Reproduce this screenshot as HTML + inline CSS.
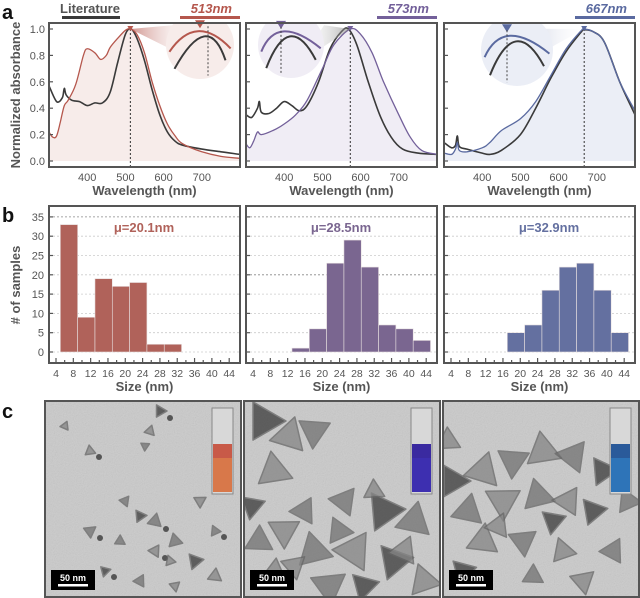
<!DOCTYPE html>
<html><head><meta charset="utf-8">
<style>
html,body{margin:0;padding:0;background:#fff;}
svg{display:block;font-family:"Liberation Sans",Arial,sans-serif;}
</style></head>
<body>
<svg id="fig" width="640" height="598" viewBox="0 0 640 598" xmlns="http://www.w3.org/2000/svg">
<defs>
<linearGradient id="coneR" x1="0" x2="1"><stop offset="0" stop-color="#b5574d" stop-opacity="0.8"/><stop offset="1" stop-color="#fff" stop-opacity="0.1"/></linearGradient>
<linearGradient id="coneP" x1="1" x2="0"><stop offset="0" stop-color="#777" stop-opacity="0.7"/><stop offset="1" stop-color="#fff" stop-opacity="0.1"/></linearGradient>
<linearGradient id="coneB" x1="0" x2="1"><stop offset="0" stop-color="#5a6aa0" stop-opacity="0.8"/><stop offset="1" stop-color="#fff" stop-opacity="0.1"/></linearGradient>
<filter id="noise"><feTurbulence type="fractalNoise" baseFrequency="0.9" numOctaves="1" result="n"/><feColorMatrix type="saturate" values="0"/><feComponentTransfer><feFuncA type="table" tableValues="0 0.25"/></feComponentTransfer></filter>
</defs>
<g id="root"></g>
</svg>
<script>
// ---------- Panel a data (wavelength nm, normalized absorbance) ----------
const wl1 = [300,310,320,330,340,350,370,390,400,420,435,450,460,480,500,513,530,550,570,590,610,630,650,700,750,800];
const red1 = [0.22,0.18,0.19,0.30,0.42,0.46,0.58,0.80,0.85,0.82,0.77,0.80,0.86,0.93,0.99,1.0,0.96,0.82,0.60,0.42,0.28,0.19,0.13,0.07,0.035,0.02];
const wlLit1 = [300,320,335,340,345,360,380,400,420,440,460,480,500,515,530,550,570,590,610,630,650,700,750,800];
const lit1 = [0.57,0.45,0.48,0.55,0.50,0.46,0.45,0.42,0.44,0.44,0.52,0.75,0.96,1.0,0.93,0.76,0.54,0.35,0.22,0.15,0.12,0.09,0.07,0.05];
const wl2 = [300,310,320,330,340,370,400,430,460,500,530,573,600,630,660,700,730,760,800];
const pur2 = [0.13,0.10,0.15,0.22,0.20,0.23,0.28,0.35,0.46,0.70,0.88,1.0,0.96,0.82,0.60,0.35,0.18,0.08,0.05];
const wlLit2 = [300,315,330,335,340,360,380,400,420,440,460,490,520,550,568,590,620,650,680,710,750,800];
const lit2 = [0.35,0.33,0.40,0.45,0.37,0.36,0.40,0.45,0.42,0.38,0.42,0.60,0.85,0.98,1.0,0.88,0.60,0.35,0.18,0.09,0.06,0.05];
const wl3 = [300,320,330,335,340,360,400,420,450,500,540,580,620,660,667,690,720,760,800];
const blu3 = [0.06,0.05,0.09,0.14,0.08,0.07,0.10,0.14,0.23,0.32,0.45,0.65,0.85,0.99,1.0,0.98,0.90,0.60,0.38];
const lit3 = [0.14,0.10,0.12,0.19,0.11,0.09,0.06,0.05,0.08,0.20,0.40,0.63,0.83,0.98,0.995,0.98,0.90,0.60,0.35];
const peaks = [513,573,667];
const peakLabels = ["513nm","573nm","667nm"];
const yTicksA = [0,0.2,0.4,0.6,0.8,1.0];
const xTicksA = [400,500,600,700];

// ---------- Panel b data (histograms, 4 nm bins) ----------
const binStarts1 = [5,9,13,17,21,25,29];
const counts1 = [33,9,19,17,18,2,2];
const binStarts2 = [13,17,21,25,29,33,37,41];
const counts2 = [1,6,23,29,22,7,6,3];
const binStarts3 = [17,21,25,29,33,37,41];
const counts3 = [5,7,16,22,23,16,5];
const means = ["μ=20.1nm","μ=28.5nm","μ=32.9nm"];
const yTicksB = [0,5,10,15,20,25,30,35];
const xTicksB = [4,8,12,16,20,24,28,32,36,40,44];

const NS = "http://www.w3.org/2000/svg";
const root = document.getElementById('root');
function mk(tag, attrs, parent, text){
  const e = document.createElementNS(NS, tag);
  for (const k in attrs) e.setAttribute(k, attrs[k]);
  if (text !== undefined) e.textContent = text;
  (parent || root).appendChild(e);
  return e;
}
const frames = [49, 246, 444];
const FW = 191;
const colors = ["#b5574d","#73609a","#5a6aa0"];
const fills = ["#f7ecea","#f0edf5","#ebeef6"];
const barCols = ["#b0625a","#7a6690","#6470a0"];
const gray = "#555";

const aTop = 23, aBot = 167;
function ax(i, w){ return frames[i] + (w - 300) / 500 * FW; }
function ay(v){ return 161 - v * 132; }
function smoothPath(xs, ys){
  let d = "M" + xs[0].toFixed(1) + "," + ys[0].toFixed(1);
  for (let i = 0; i < xs.length - 1; i++){
    const x0 = xs[Math.max(i-1,0)], y0 = ys[Math.max(i-1,0)];
    const x1 = xs[i], y1 = ys[i], x2 = xs[i+1], y2 = ys[i+1];
    const x3 = xs[Math.min(i+2,xs.length-1)], y3 = ys[Math.min(i+2,xs.length-1)];
    const c1x = x1 + (x2-x0)/6, c1y = y1 + (y2-y0)/6;
    const c2x = x2 - (x3-x1)/6, c2y = y2 - (y3-y1)/6;
    d += " C" + c1x.toFixed(1)+","+c1y.toFixed(1)+" "+c2x.toFixed(1)+","+c2y.toFixed(1)+" "+x2.toFixed(1)+","+y2.toFixed(1);
  }
  return d;
}
const sets = [[wl1,red1,wlLit1,lit1],[wl2,pur2,wlLit2,lit2],[wl3,blu3,wl3,lit3]];
const insets = [{cx:200,cy:45,r:34},{cx:291,cy:45,r:33},{cx:517,cy:50,r:36}];
const coneIds = ["coneR","coneP","coneB"];

let t;
t = mk('text',{x:2,y:19,'font-size':20,'font-weight':'bold',fill:'#111'},root,'a');
 
t = mk('text',{x:2,y:222,'font-size':20,'font-weight':'bold',fill:'#111'},root,'b');
 
t = mk('text',{x:2,y:418,'font-size':20,'font-weight':'bold',fill:'#111'},root,'c');
 

t = mk('text',{x:90,y:13,'font-size':13,'font-weight':'bold',fill:'#555','text-anchor':'middle'},root,'Literature');
 
let r = mk('rect',{x:62,y:16,width:58,height:3,fill:'#3a3a3a'});
 

for (let i = 0; i < 3; i++){
  const g = mk('g',{});
  
  
  const x0 = frames[i];
  const [wa, va, wb, vb] = sets[i];
  const xs = wa.map(w => ax(i,w)), ys = va.map(v => ay(v));
  const fp = mk('path',{d: smoothPath(xs,ys) + " L"+ax(i,800)+",161 L"+ax(i,300)+",161 Z", fill: fills[i]}, g);
   
  const px = ax(i, peaks[i]);
  const pl = mk('line',{x1:px,x2:px,y1:ay(1),y2:aBot,stroke:'#333','stroke-width':1,'stroke-dasharray':'2,2'}, g);
   
  const lp = mk('path',{d: smoothPath(wb.map(w=>ax(i,w)), vb.map(v=>ay(v))), fill:'none', stroke:'#3a3a3a','stroke-width':1.6}, g);
   
  const sp = mk('path',{d: smoothPath(xs,ys), fill:'none', stroke: colors[i],'stroke-width':1.3}, g);
   
  const ins = insets[i];
  const cone = mk('polygon',{points: px+","+ay(1)+" "+(ins.cx+(i==1?ins.r:-ins.r*0.6))+","+(ins.cy-ins.r*0.6)+" "+(ins.cx+(i==1?ins.r*0.3:-ins.r*0.1))+","+(ins.cy+ins.r*0.5), fill:'url(#'+coneIds[i]+')', opacity:0.8}, g);
   
  const clipId = 'clip'+i;
  const cp = mk('clipPath',{id:clipId}, g);
  mk('rect',{x:x0,y:aTop,width:FW,height:aBot-aTop}, cp);
  const circ = mk('circle',{cx:ins.cx,cy:ins.cy,r:ins.r,fill:fills[i],'clip-path':'url(#'+clipId+')'}, g);
   
  const pk = ins.cx + (i==0?0:-10), top = ins.cy - ins.r*0.55;
  const a1 = mk('path',{d:"M"+(ins.cx-ins.r*0.9)+","+(ins.cy+ins.r*0.2)+" Q"+(pk-4)+","+(top-14)+" "+(ins.cx+ins.r*0.9)+","+(ins.cy+ins.r*0.1), fill:'none', stroke:colors[i],'stroke-width':2}, g);
   
  const a2 = mk('path',{d:"M"+(ins.cx-ins.r*0.75)+","+(ins.cy+ins.r*0.7)+" Q"+(pk+8)+","+(top-18)+" "+(ins.cx+ins.r*0.75)+","+(ins.cy+ins.r*0.45), fill:'none', stroke:'#3a3a3a','stroke-width':2}, g);
   
  const mk1 = mk('polygon',{points:(pk-5)+","+(top-6)+" "+(pk+5)+","+(top-6)+" "+pk+","+(top+2), fill:colors[i]}, g);
   
  const il = mk('line',{x1:pk+(i==0?8:0),x2:pk+(i==0?8:0),y1:top,y2:ins.cy+ins.r*0.9,stroke:'#444','stroke-dasharray':'2,2','stroke-width':1}, g);
   
  const m2 = mk('polygon',{points:(px-3)+","+(ay(1)-3)+" "+(px+3)+","+(ay(1)-3)+" "+px+","+(ay(1)+2), fill:colors[i]}, g);
   
  const fr = mk('rect',{x:x0,y:aTop,width:FW,height:aBot-aTop,fill:'none',stroke:'#555','stroke-width':2}, g);
   
  yTicksA.forEach(v => {
    const tk = mk('line',{x1:x0,x2:x0+4,y1:ay(v),y2:ay(v),stroke:'#555','stroke-width':1.2}, g);
     
    if (i==0){
      const tl = mk('text',{x:x0-4,y:ay(v)+4,'font-size':11,fill:gray,'text-anchor':'end'}, g, v.toFixed(1));
       
    }
  });
  xTicksA.forEach(w => {
    const tl = mk('text',{x:ax(i,w),y:181,'font-size':11,fill:gray,'text-anchor':'middle'}, g, String(w));
     
  });
  const xt = mk('text',{x:x0+FW/2,y:195,'font-size':13,'font-weight':'bold',fill:gray,'text-anchor':'middle'}, g, 'Wavelength (nm)');
   
  const hl = mk('text',{x:x0+FW-8,y:13,'font-size':13,'font-weight':'bold','font-style':'italic',fill:colors[i],'text-anchor':'end'}, root, peakLabels[i]);
   
  const hb = mk('rect',{x:x0+FW-60,y:16,width:60,height:3,fill:colors[i]}, root);
   
}
t = mk('text',{x:0,y:0,'font-size':13,'font-weight':'bold',fill:gray,'text-anchor':'middle',transform:'translate(20,95) rotate(-90)'},root,'Normalized absorbance');
 

// ---------- Panel b ----------
const bTop = 206, bBot = 363;
function bx(i, s){ return frames[i] + 7 + (s - 4) * 4.33; }
function by(c){ return 352 - c * 3.86; }
const hist = [[binStarts1,counts1],[binStarts2,counts2],[binStarts3,counts3]];
for (let i = 0; i < 3; i++){
  const g = mk('g',{});
  
  
  const x0 = frames[i];
  yTicksB.forEach(v => {
    const gl = mk('line',{x1:x0,x2:x0+FW,y1:by(v),y2:by(v),stroke:(v==35||v==20&&i==1)?'#888':'#ccc','stroke-width':0.8,'stroke-dasharray':'2,2'}, g);
     
    const tk = mk('line',{x1:x0,x2:x0+4,y1:by(v),y2:by(v),stroke:'#555','stroke-width':1.2}, g);
     
    if (i==0){
      const tl = mk('text',{x:x0-5,y:by(v)+4,'font-size':11,fill:gray,'text-anchor':'end'}, g, String(v));
       
    }
  });
  const [bs, cs] = hist[i];
  bs.forEach((s, k) => {
    const b = mk('rect',{x:bx(i,s),y:by(cs[k]),width:bx(i,s+4)-bx(i,s),height:by(0)-by(cs[k]),fill:barCols[i],stroke:'#e8e0e0','stroke-width':0.6}, g);
     
  });
  for (let s = 4; s <= 44; s += 2){
    const tk = mk('line',{x1:bx(i,s),x2:bx(i,s),y1:bBot,y2:bBot-(s%4==0?5:3),stroke:'#555','stroke-width':1.2}, g);
     
  }
  xTicksB.forEach(s => {
    const tl = mk('text',{x:bx(i,s),y:377,'font-size':10.5,fill:gray,'text-anchor':'middle'}, g, String(s));
     
  });
  const fr = mk('rect',{x:x0,y:bTop,width:FW,height:bBot-bTop,fill:'none',stroke:'#555','stroke-width':2}, g);
   
  const ml = mk('text',{x:x0+(i==0?95:i==1?95:105),y:232,'font-size':13,'font-weight':'bold',fill:barCols[i],'text-anchor':'middle'}, g, means[i]);
   
  const xt = mk('text',{x:x0+FW/2,y:391,'font-size':13,'font-weight':'bold',fill:gray,'text-anchor':'middle'}, g, 'Size (nm)');
   
}
t = mk('text',{x:0,y:0,'font-size':13,'font-weight':'bold',fill:gray,'text-anchor':'middle',transform:'translate(20,285) rotate(-90)'},root,'# of samples');
 

// ---------- Panel c (TEM images, decorative) ----------
const cx0 = [45,244,443], cTop = 401, cW = 196, cH = 196;
const vialCols = [["#c85a48","#d8784a"],["#3a2aa0","#3d2fb0"],["#2a5a9a","#2e74b8"]];
const tris = [
 [[115,10,7],[105,30,6],[100,45,5],[45,50,6],[80,100,6],[95,115,7],[110,120,8],[155,100,7],[130,140,8],[110,150,7],[150,160,9],[170,175,8],[45,130,7],[125,160,6],[95,180,7],[60,170,6],[75,140,6],[130,185,6],[170,130,6],[20,25,5]],
 [[20,20,22],[45,35,20],[70,30,18],[30,70,20],[100,100,16],[140,110,22],[170,120,20],[40,130,18],[70,150,20],[110,150,22],[150,160,20],[30,175,18],[85,185,20],[180,180,18],[60,110,15],[120,185,16],[15,140,16],[50,165,14],[95,130,15],[160,150,16],[8,105,14],[130,90,12]],
 [[10,80,18],[40,70,20],[70,60,18],[100,50,20],[130,55,18],[160,70,16],[25,110,18],[60,100,20],[95,95,18],[125,100,16],[150,110,15],[40,140,18],[80,140,16],[120,150,14],[170,150,14],[20,170,14],[90,175,12],[140,180,14],[185,100,14],[55,125,14],[110,120,14],[5,40,14]]
];
for (let i = 0; i < 3; i++){
  const g = mk('g',{});
  
  
  const x0 = cx0[i];
  const cid = 'cc'+i;
  const cp = mk('clipPath',{id:cid}, g);
  mk('rect',{x:x0,y:cTop,width:cW,height:cH}, cp);
  const inner = mk('g',{'clip-path':'url(#'+cid+')'}, g);
  mk('rect',{x:x0,y:cTop,width:cW,height:cH,fill:'#cacaca'}, inner);
  mk('rect',{x:x0,y:cTop,width:cW,height:cH,filter:'url(#noise)'}, inner);
  tris[i].forEach((p,k) => {
    const [px,py,s] = p;
    const ang = (k*47)%120 * Math.PI/180;
    let pts = "";
    for (let j=0;j<3;j++){ const a = ang + j*2*Math.PI/3; pts += (x0+px+s*Math.cos(a)).toFixed(1)+","+(cTop+py+s*Math.sin(a)).toFixed(1)+" "; }
    const tr = mk('polygon',{points:pts,fill:k%5==0?'#3a3a3a':(k%2?'#858585':'#727272'),opacity:0.75,stroke:'#666','stroke-width':1.5,'stroke-linejoin':'round'}, inner);
     
    if (i==0 && k%3==0){
      const dot = mk('circle',{cx:x0+px+s+3,cy:cTop+py+s,r:3,fill:'#555'}, inner);
       
    }
  });
  const vx = x0+167, vy = cTop+7;
  const v = mk('g',{}, inner);
   
  mk('rect',{x:vx,y:vy,width:21,height:86,fill:'#d8d8d8',stroke:'#888','stroke-width':1}, v);
  mk('rect',{x:vx+1,y:vy+36,width:19,height:14,fill:vialCols[i][0]}, v);
  mk('rect',{x:vx+1,y:vy+50,width:19,height:34,fill:vialCols[i][1]}, v);
  const sb = mk('g',{}, inner);
   
  mk('rect',{x:x0+6,y:cTop+169,width:44,height:20,fill:'#000'}, sb);
  mk('text',{x:x0+28,y:cTop+180,'font-size':9,'font-weight':'bold',fill:'#fff','text-anchor':'middle'}, sb, '50 nm');
  mk('rect',{x:x0+13,y:cTop+183,width:30,height:2.5,fill:'#fff'}, sb);
  const fr = mk('rect',{x:x0,y:cTop,width:cW,height:cH,fill:'none',stroke:'#555','stroke-width':2}, g);
   
}
</script>
</body></html>
